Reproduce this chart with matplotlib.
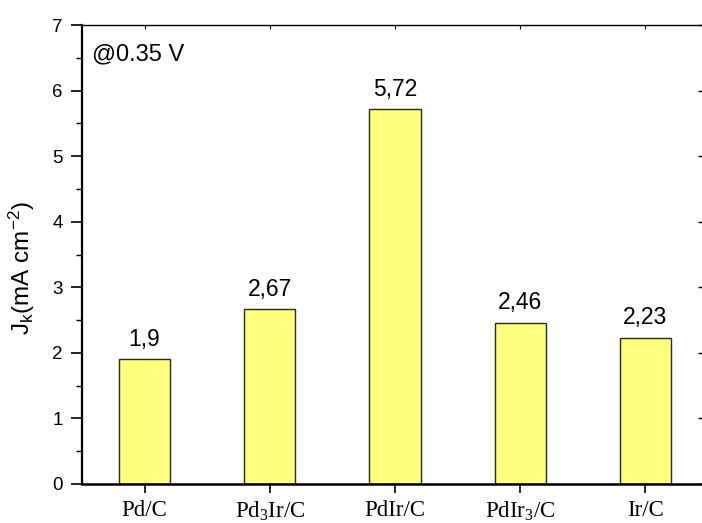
import matplotlib
matplotlib.use("Agg")
import matplotlib.pyplot as plt
from matplotlib.ticker import MultipleLocator

categories = ["Pd/C", "Pd$\\mathregular{_3}$Ir/C", "PdIr/C", "PdIr$\\mathregular{_3}$/C", "Ir/C"]
values = [1.9, 2.67, 5.72, 2.46, 2.23]
value_labels = ["1,9", "2,67", "5,72", "2,46", "2,23"]
annotation = "@0.35 V"
ylabel = "J$\\mathregular{_k}$(mA cm$\\mathregular{^{-2}}$)"

W, H = 702, 523
fig = plt.figure(figsize=(W / 100, H / 100), dpi=100)
ax = fig.add_axes([82 / W, 1 - 484 / H, (708 - 82) / W, (484 - 25) / H])

x = list(range(len(categories)))
ax.bar(x, values, width=0.41, color="#FFFF80", edgecolor="#2a2a10", linewidth=1.0, zorder=2)

for xi, v, lab in zip(x, values, value_labels):
    ax.annotate(lab, (xi, v), xytext=(0, 6), textcoords="offset points",
                ha="center", va="bottom", fontsize=16.5, family="Liberation Sans")

ax.text(92 / W, 1 - 60 / H, annotation, transform=fig.transFigure, fontsize=17,
        family="Liberation Sans", ha="left", va="baseline")

ax.set_xlim(-0.5, 4.5)
ax.set_ylim(0, 7)
ax.set_xticks(x)
ax.set_xticklabels(categories, family="Liberation Serif", fontsize=16.5)
ax.yaxis.set_major_locator(MultipleLocator(1))
ax.yaxis.set_minor_locator(MultipleLocator(0.5))
for lab in ax.get_yticklabels():
    lab.set_family("Liberation Sans")
    lab.set_fontsize(13.5)

ax.tick_params(axis="y", which="major", direction="out", length=8, width=1.2, pad=6,
               left=True, right=False)
ax.tick_params(axis="y", which="minor", direction="out", length=4.3, width=1.0, left=True)
ax.tick_params(axis="x", which="major", direction="out", length=6.5, width=1.2, pad=5,
               top=False)
ax.tick_params(axis="x", which="minor", bottom=False)

# right and top inward ticks
axr = ax.twinx()
axr.set_ylim(0, 7)
axr.yaxis.set_major_locator(MultipleLocator(1))
axr.tick_params(axis="y", direction="in", length=7, width=1.0, labelright=False)
axt = ax.twiny()
axt.set_xlim(-0.5, 4.5)
axt.set_xticks(x)
axt.tick_params(axis="x", direction="in", length=3, width=0.8, labeltop=False)
for a in (axr, axt):
    for s in a.spines.values():
        s.set_visible(False)

ax.spines["left"].set_linewidth(1.6)
ax.spines["bottom"].set_linewidth(1.8)
ax.spines["top"].set_linewidth(1.0)
ax.spines["right"].set_linewidth(1.0)

ax.set_ylabel(ylabel, fontsize=17.5, family="Liberation Sans")
ax.yaxis.set_label_coords(-0.072, 0.47)

fig.savefig("out.png", dpi=100)
